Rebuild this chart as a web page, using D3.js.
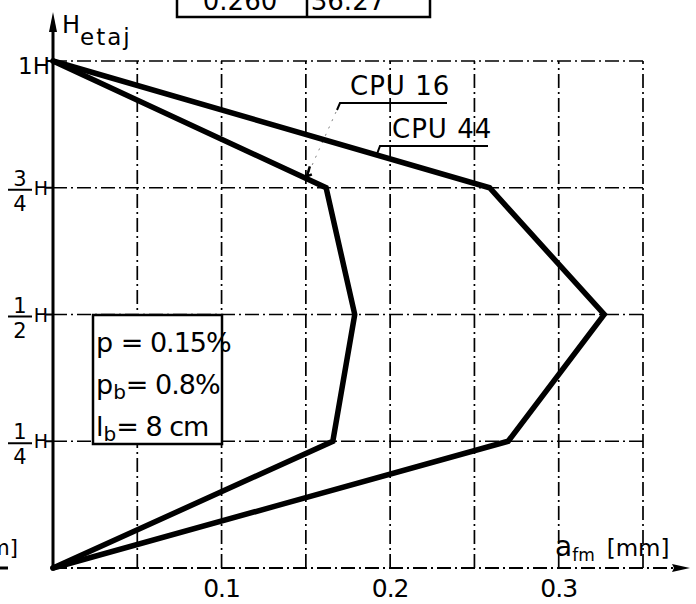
<!DOCTYPE html>
<html><head><meta charset="utf-8">
<script src="https://cdn.jsdelivr.net/npm/d3@7/dist/d3.min.js"></script>
<style>html,body{margin:0;padding:0;background:#fff;} svg{display:block;}</style>
</head><body><svg id="c" width="696" height="604"></svg>
<script>
// ---- data ----
const levels = [0, 0.25, 0.5, 0.75, 1];          // storey height fraction (H)
const cpu16 = [0, 0.166, 0.179, 0.162, 0];       // a_fm [mm]
const cpu44 = [0, 0.270, 0.327, 0.259, 0];       // a_fm [mm]
const xGrid = [0.05, 0.1, 0.15, 0.2, 0.25, 0.3, 0.35];
const xTicks = [0.1, 0.2, 0.3];
const xTickLabels = ["0.1", "0.2", "0.3"];
const yGrid = [0.25, 0.5, 0.75, 1];
const yFracs = [["1", "4"], ["1", "2"], ["3", "4"]];
const tableValues = ["0.260", "36.27"];
const paramLines = [["p", "", " = 0.15%"], ["p", "b", "= 0.8%"], ["l", "b", "= 8 cm"]];

const svg = d3.select("#c");
const F = "'DejaVu Sans', sans-serif";
const x = d3.scaleLinear().domain([0, 0.35]).range([53, 643]);
const y = d3.scaleLinear().domain([0, 1]).range([568, 61]);

// grid
const dash = "14,4,2,4";
const g = svg.append("g").attr("stroke", "#000").attr("stroke-width", 1.7).attr("fill", "none");
g.selectAll("line.v").data(xGrid).join("line")
  .attr("x1", d => x(d)).attr("x2", d => x(d)).attr("y1", y(0)).attr("y2", y(1))
  .attr("stroke-dasharray", dash);
g.selectAll("line.h").data(yGrid).join("line")
  .attr("x1", x(0)).attr("x2", x(0.35)).attr("y1", d => y(d)).attr("y2", d => y(d))
  .attr("stroke-dasharray", dash);
// x axis (dash-dot) with arrow
g.append("line").attr("x1", x(0)).attr("x2", 682).attr("y1", y(0)).attr("y2", y(0))
  .attr("stroke-dasharray", dash).attr("stroke-width", 2.2);
svg.append("path").attr("d", `M${690},${y(0)} L${672},${y(0)-4} L${674},${y(0)} L${672},${y(0)+4}Z`).attr("fill", "#000");
// y axis solid with arrow
svg.append("line").attr("x1", x(0)).attr("x2", x(0)).attr("y1", y(0)+2).attr("y2", 22)
  .attr("stroke", "#000").attr("stroke-width", 3);
svg.append("path").attr("d", `M${x(0)},12 L${x(0)-4},32 L${x(0)+4},32Z`).attr("fill", "#000");
// y ticks
svg.selectAll("line.yt").data(yGrid).join("line")
  .attr("x1", x(0)-7).attr("x2", x(0)).attr("y1", d => y(d)).attr("y2", d => y(d))
  .attr("stroke", "#000").attr("stroke-width", 2);

// curves
const line = d3.line().x(d => x(d[0])).y(d => y(d[1]));
[cpu16, cpu44].forEach(s => {
  svg.append("path").datum(s.map((v, i) => [v, levels[i]])).attr("d", line)
    .attr("fill", "none").attr("stroke", "#000").attr("stroke-width", 5.5)
    .attr("stroke-linejoin", "miter").attr("stroke-linecap", "round");
});

// curve labels with leaders
function yOn(series, xv, i0) {
  const a = [series[i0], levels[i0]], b = [series[i0+1], levels[i0+1]];
  const t = (xv - a[0]) / (b[0] - a[0]);
  return a[1] + t * (b[1] - a[1]);
}
const t16 = svg.append("g").attr("font-family", F).attr("font-size", 26);
t16.append("text").attr("x", 350).attr("y", 95).attr("letter-spacing", 1).text("CPU 16");
t16.append("text").attr("x", 392).attr("y", 138).attr("letter-spacing", 1).text("CPU 44");
const p16 = [x(0.15), y(yOn(cpu16, 0.15, 3))];
svg.append("path").attr("d", `M447,103 L340,103 L337,110`).attr("fill", "none").attr("stroke", "#000").attr("stroke-width", 2);
svg.append("path").attr("d", `M336,112 L${p16[0]+3},${p16[1]-6}`).attr("fill", "none").attr("stroke", "#000").attr("stroke-width", 1).attr("stroke-dasharray", "2,6").attr("opacity", 0.5);
svg.append("path").attr("d", `M${p16[0]+4},${p16[1]-12} L${p16[0]+1},${p16[1]-2} L${p16[0]+6},${p16[1]-4}`).attr("fill", "none").attr("stroke", "#000").attr("stroke-width", 2.5);
const p44 = [x(0.192), y(yOn(cpu44, 0.192, 3))];
svg.append("path").attr("d", `M488,146 L380,146 L${p44[0]},${p44[1]}`).attr("fill", "none").attr("stroke", "#000").attr("stroke-width", 2);

// x tick labels
const tx = svg.append("g").attr("font-family", F).attr("font-size", 25).attr("text-anchor", "middle");
tx.selectAll("text").data(xTicks).join("text")
  .attr("x", d => x(d)).attr("y", 597).attr("letter-spacing", -1).text((d, i) => xTickLabels[i]);

// y labels
svg.append("text").attr("x", 50).attr("y", 74).attr("text-anchor", "end").attr("font-family", F).attr("font-size", 23).text("1H");
yGrid.slice(0, 3).forEach((lv, i) => {
  const gy = y(lv);
  const fg = svg.append("g").attr("font-family", F).attr("font-size", 21).attr("text-anchor", "middle");
  fg.append("text").attr("x", 20).attr("y", gy - 2).text(yFracs[i][0]);
  fg.append("line").attr("x1", 8).attr("x2", 32).attr("y1", gy + 2).attr("y2", gy + 2).attr("stroke", "#000").attr("stroke-width", 2);
  fg.append("text").attr("x", 20).attr("y", gy + 23).text(yFracs[i][1]);
  fg.append("text").attr("x", 41).attr("y", gy + 7).attr("font-size", 19).text("H");
});
// H etaj
const he = svg.append("text").attr("font-family", F).attr("x", 62).attr("y", 33).attr("font-size", 24);
he.append("tspan").text("H");
he.append("tspan").attr("dy", 12).attr("font-size", 23).attr("letter-spacing", 2).text("etaj");

// x axis title
const xt = svg.append("text").attr("font-family", F).attr("x", 555).attr("y", 556).attr("font-size", 28);
xt.append("tspan").text("a");
xt.append("tspan").attr("dy", 5).attr("font-size", 17).text("fm");
xt.append("tspan").attr("dy", -5).attr("dx", 12).attr("font-size", 23).text("[mm]");

// stray left-edge fragment (cut off at the page edge, as in the source)
svg.append("text").attr("font-family", F).attr("x", 18).attr("y", 555).attr("font-size", 21).attr("text-anchor", "end").text("m]");
svg.append("line").attr("x1", 0).attr("x2", 8).attr("y1", 568).attr("y2", 568).attr("stroke", "#000").attr("stroke-width", 3);

// parameter box
svg.append("rect").attr("x", 93).attr("y", 315).attr("width", 129).attr("height", 129)
  .attr("fill", "#fff").attr("stroke", "#000").attr("stroke-width", 2.5);
const pb = svg.append("g").attr("font-family", F).attr("font-size", 27);
paramLines.forEach((pl, i) => {
  const t = pb.append("text").attr("x", 96).attr("y", 352 + i * 42);
  t.append("tspan").text(pl[0]);
  if (pl[1]) t.append("tspan").attr("dy", 5).attr("font-size", 20).text(pl[1]);
  t.append("tspan").attr("dy", pl[1] ? -5 : 0).attr("letter-spacing", -1).text(pl[2]);
});

// top table fragment (cut off at the top edge, as in the source)
svg.append("path").attr("d", "M177,0 L177,17 L430,17 L430,0 M307,0 L307,17")
  .attr("fill", "none").attr("stroke", "#000").attr("stroke-width", 2.5);
const tt = svg.append("g").attr("font-family", F).attr("font-size", 26).attr("text-anchor", "middle");
tt.append("text").attr("x", 240).attr("y", 10).text(tableValues[0]);
tt.append("text").attr("x", 348).attr("y", 10).text(tableValues[1]);
</script></body></html>
